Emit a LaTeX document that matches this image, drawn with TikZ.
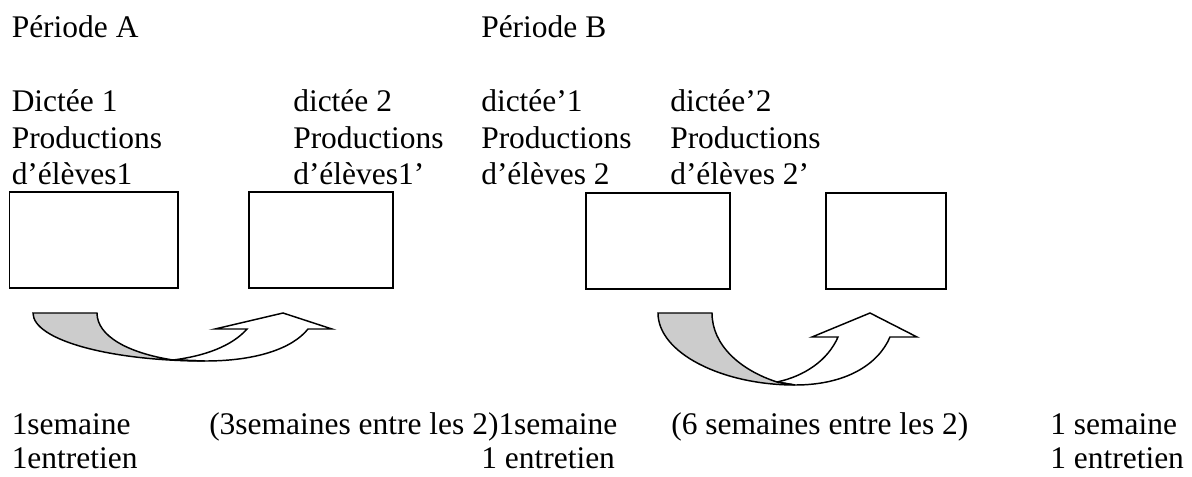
\documentclass[tikz,border=0pt]{standalone}
\usepackage{fontspec}
\setmainfont{Liberation Serif}
\begin{document}
\begin{tikzpicture}[x=0.75pt,y=-0.75pt,
  txt/.style={anchor=base west,inner sep=0pt,font=\fontsize{23.6}{28}\selectfont},
  box/.style={draw,line width=1.2pt,inner sep=0pt,minimum height=72pt},
  shp/.style={draw,line width=1.1pt,line join=miter}]
\useasboundingbox (0,0) rectangle (1192,476);
% top texts
\node[txt] (pa) at (11.5,37) {Période A};
\node[txt] (pb) at (481,37) {Période B};
\node[txt] (d1) at (11.5,111) {Dictée 1};
\node[txt] (d2) at (293,111) {dictée 2};
\node[txt] (d3) at (481,111) {dictée’1};
\node[txt] (d4) at (670,111) {dictée’2};
\node[txt] (p1) at (11.5,148) {Productions};
\node[txt] (p2) at (293,148) {Productions};
\node[txt] (p3) at (481,148) {Productions};
\node[txt] (p4) at (670,148) {Productions};
\node[txt] (e1) at (11.5,184) {d’élèves1};
\node[txt] (e2) at (293,184) {d’élèves1’};
\node[txt] (e3) at (481,184) {d’élèves 2};
\node[txt] (e4) at (670,184) {d’élèves 2’};
% boxes
\node[box,minimum width=126.4pt] (b1) at (93.75,240) {};
\node[box,minimum width=108pt] (b2) at (321,240) {};
\node[box,minimum width=108pt] (b3) at (658,241) {};
\node[box,minimum width=90pt] (b4) at (886,241) {};
% arrow 1
\draw[shp,fill=white] (173,360) -- (205,361) .. controls (255,361) and (292,349) .. (308,329)
  -- (332,329) -- (283,313) -- (215,329) -- (247,329)
  .. controls (232,346) and (205,356) .. (173,360) -- cycle;
\draw[shp,fill=black!20] (33,313) -- (97,313) .. controls (97,336) and (128,353) .. (173,360)
  -- (205,361) .. controls (110,361) and (33,340) .. (33,313) -- cycle;
% arrow 2
\draw[shp,fill=white] (777,382) -- (795,385) .. controls (845,385) and (878,365) .. (890,337)
  -- (917,337) -- (870,313) -- (812,337) -- (838,337)
  .. controls (828,360) and (805,376) .. (777,382) -- cycle;
\draw[shp,fill=black!20] (658,313) -- (712,313) .. controls (712,345) and (740,370) .. (777,382)
  -- (795,385) .. controls (722,385) and (658,353) .. (658,313) -- cycle;
% bottom texts
\node[txt] (s1) at (11.5,434) {1semaine};
\node[txt] (s2) at (209,434) {(3semaines entre les 2)1semaine};
\node[txt] (s3) at (671,434) {(6 semaines entre les 2)};
\node[txt] (s4) at (1050,434) {1 semaine};
\node[txt] (t1) at (11.5,468) {1entretien};
\node[txt] (t2) at (481,468) {1 entretien};
\node[txt] (t4) at (1050,468) {1 entretien};
\end{tikzpicture}
\end{document}
